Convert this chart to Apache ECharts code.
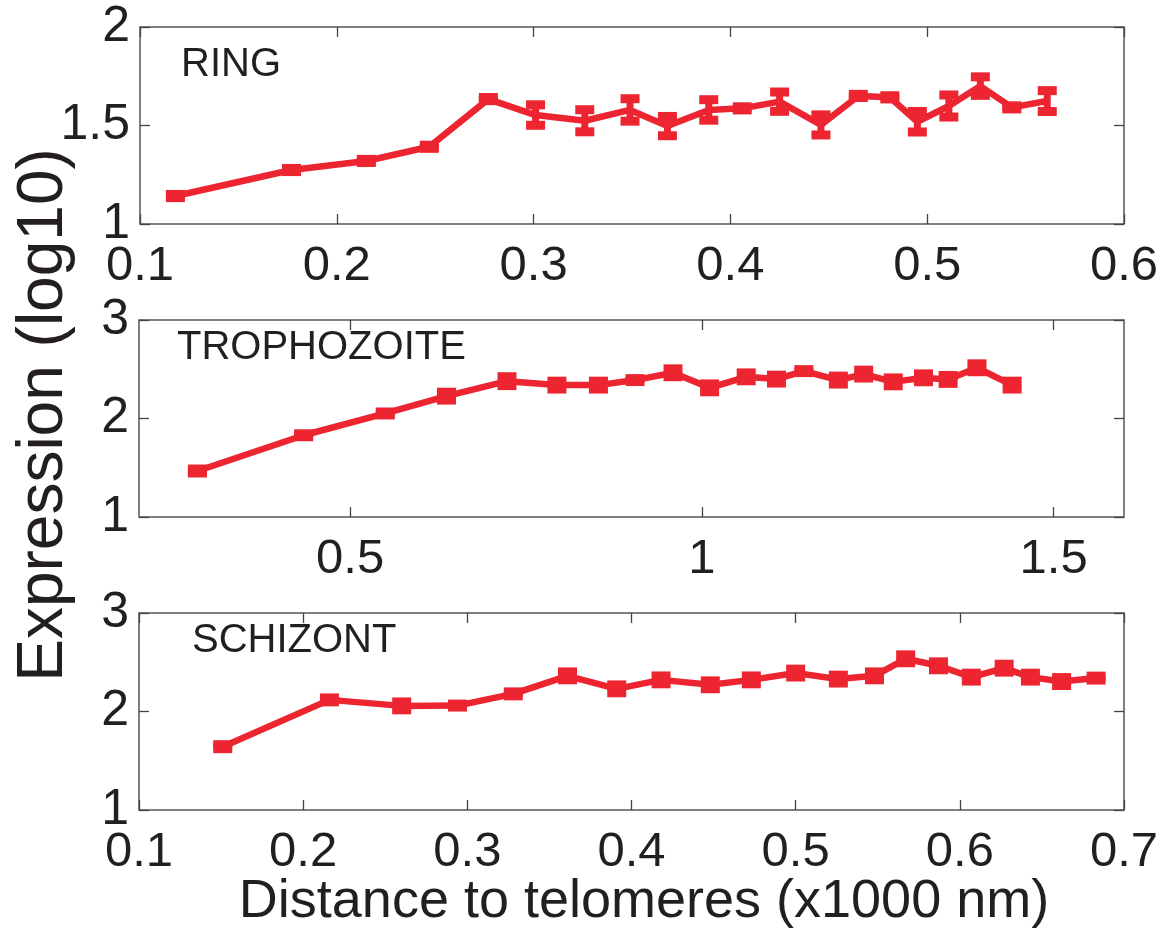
<!DOCTYPE html>
<html>
<head>
<meta charset="utf-8">
<title>Expression vs distance to telomeres</title>
<script src="https://cdn.jsdelivr.net/npm/echarts@6/dist/echarts.min.js"></script>
<style>
  html, body { margin: 0; padding: 0; background: #fff; }
  #chart { width: 1171px; height: 933px; }
</style>
</head>
<body>
<div id="chart"></div>
<script>
// RING stage
var ringX = [0.118, 0.177, 0.215, 0.247, 0.277, 0.301, 0.326, 0.349, 0.368, 0.389,
             0.406, 0.425, 0.446, 0.465, 0.481, 0.495, 0.511, 0.527, 0.543, 0.561];
var ringY = [1.142, 1.274, 1.320, 1.392, 1.634, 1.553, 1.524, 1.579, 1.497, 1.579,
             1.587, 1.621, 1.503, 1.650, 1.643, 1.519, 1.599, 1.700, 1.592, 1.624];
var ringErr = [0.008, 0.008, 0.008, 0.008, 0.008, 0.052, 0.056, 0.057, 0.049, 0.052,
               0.008, 0.049, 0.051, 0.008, 0.008, 0.052, 0.056, 0.047, 0.008, 0.053];

// TROPHOZOITE stage
var trophX = [0.283, 0.434, 0.550, 0.637, 0.723, 0.794, 0.853, 0.905, 0.959, 1.011,
              1.063, 1.106, 1.145, 1.194, 1.230, 1.272, 1.315, 1.350, 1.391, 1.441];
var trophY = [1.467, 1.830, 2.051, 2.227, 2.379, 2.339, 2.339, 2.390, 2.464, 2.311,
              2.423, 2.400, 2.481, 2.390, 2.451, 2.372, 2.413, 2.397, 2.515, 2.339];
var trophErr = [0.02, 0.015, 0.015, 0.04, 0.045, 0.04, 0.04, 0.015, 0.04, 0.04,
                0.04, 0.04, 0.015, 0.04, 0.04, 0.04, 0.04, 0.04, 0.04, 0.04];

// SCHIZONT stage
var schizX = [0.151, 0.216, 0.260, 0.294, 0.328, 0.361, 0.391, 0.418, 0.448, 0.473,
              0.500, 0.526, 0.548, 0.567, 0.587, 0.607, 0.627, 0.643, 0.662, 0.683];
var schizY = [1.643, 2.118, 2.057, 2.060, 2.179, 2.362, 2.230, 2.321, 2.271, 2.321,
              2.390, 2.329, 2.362, 2.535, 2.464, 2.349, 2.440, 2.349, 2.304, 2.339];
var schizErr = [0.02, 0.02, 0.04, 0.015, 0.02, 0.04, 0.04, 0.04, 0.04, 0.04,
                0.04, 0.04, 0.04, 0.04, 0.04, 0.04, 0.04, 0.04, 0.04, 0.02];

var trophTicks = [0.5, 1, 1.5];
var panelNames = ["RING", "TROPHOZOITE", "SCHIZONT"];

var RED = "#ec2530";
var INK = "#231f20";
var FONT = "'Liberation Sans', Arial, sans-serif";

var chart = echarts.init(document.getElementById("chart"));

var grids = [
  { left: 140, width: 984, top: 27, height: 197 },
  { left: 139, width: 985, top: 320, height: 197 },
  { left: 139, width: 985, top: 613, height: 197 }
];
grids.forEach(function (g) {
  g.show = true;
  g.borderColor = "#555";
  g.borderWidth = 1.5;
  g.backgroundColor = "#fff";
});

// x ranges per panel
var xRange = [[0.1, 0.6, 0.1], [0.2, 1.6, null], [0.1, 0.7, 0.1]];
var yRange = [[1, 2, 0.5], [1, 3, 1], [1, 3, 1]];

var xAxes = [], yAxes = [];
for (var i = 0; i < 3; i++) {
  ["bottom", "top"].forEach(function (pos) {
    var ax = {
      type: "value",
      gridIndex: i,
      position: pos,
      min: xRange[i][0],
      max: xRange[i][1],
      axisLine: { show: false, onZero: false },
      axisTick: { show: true, inside: true, length: 10, lineStyle: { color: "#444", width: 1.3 } },
      splitLine: { show: false },
      axisLabel: {
        show: pos === "bottom",
        color: INK,
        fontFamily: FONT,
        fontSize: 49,
        margin: 18
      }
    };
    if (xRange[i][2]) {
      ax.interval = xRange[i][2];
    } else {
      ax.axisTick.customValues = trophTicks;
      ax.axisLabel.customValues = trophTicks;
    }
    xAxes.push(ax);
  });
  ["left", "right"].forEach(function (pos) {
    yAxes.push({
      type: "value",
      gridIndex: i,
      position: pos,
      min: yRange[i][0],
      max: yRange[i][1],
      interval: yRange[i][2],
      axisLine: { show: false, onZero: false },
      axisTick: { show: true, inside: true, length: 10, lineStyle: { color: "#444", width: 1.3 } },
      splitLine: { show: false },
      axisLabel: {
        show: pos === "left",
        color: INK,
        fontFamily: FONT,
        fontSize: 50,
        margin: 10
      }
    });
  });
}

function pairs(xs, ys) {
  return xs.map(function (x, k) { return [x, ys[k]]; });
}

function lineSeries(idx, xs, ys) {
  return {
    type: "line",
    xAxisIndex: idx * 2,
    yAxisIndex: idx * 2,
    data: pairs(xs, ys),
    symbol: "none",
    lineStyle: { color: RED, width: 6.5 },
    z: 2
  };
}

// error bars with thick caps, like the MATLAB errorbar glyphs
function errorSeries(idx, xs, ys, es) {
  return {
    type: "custom",
    xAxisIndex: idx * 2,
    yAxisIndex: idx * 2,
    data: xs.map(function (x, k) { return [x, ys[k], es[k]]; }),
    renderItem: function (params, api) {
      var x = api.value(0), y = api.value(1), e = api.value(2);
      var top = api.coord([x, y + e]);
      var bot = api.coord([x, y - e]);
      var hw = 9.5;
      var ch = 9;
      return {
        type: "group",
        children: [
          { type: "rect", shape: { x: top[0] - 3.5, y: top[1], width: 7, height: bot[1] - top[1] }, style: { fill: RED } },
          { type: "rect", shape: { x: top[0] - hw, y: top[1] - ch / 2, width: hw * 2, height: ch }, style: { fill: RED } },
          { type: "rect", shape: { x: bot[0] - hw, y: bot[1] - ch / 2, width: hw * 2, height: ch }, style: { fill: RED } }
        ]
      };
    },
    z: 3
  };
}

var labelPos = [[181, 66], [177, 349], [192, 642]];
var graphics = panelNames.map(function (name, k) {
  return {
    type: "text",
    left: labelPos[k][0],
    top: labelPos[k][1] - 21,
    style: { text: name, font: "40px " + FONT, fill: INK }
  };
});
graphics.push({
  type: "text",
  x: 44,
  y: 415,
  rotation: Math.PI / 2,
  style: {
    text: "Expression (log10)",
    font: "64px " + FONT,
    fill: INK,
    align: "center",
    verticalAlign: "middle"
  }
});
graphics.push({
  type: "text",
  x: 644,
  y: 902,
  style: {
    text: "Distance to telomeres (x1000 nm)",
    font: "54px " + FONT,
    fill: INK,
    align: "center",
    verticalAlign: "middle"
  }
});

var option = {
  animation: false,
  backgroundColor: "#fff",
  grid: grids,
  xAxis: xAxes,
  yAxis: yAxes,
  graphic: graphics,
  series: [
    lineSeries(0, ringX, ringY), errorSeries(0, ringX, ringY, ringErr),
    lineSeries(1, trophX, trophY), errorSeries(1, trophX, trophY, trophErr),
    lineSeries(2, schizX, schizY), errorSeries(2, schizX, schizY, schizErr)
  ]
};

chart.setOption(option);
</script>
</body>
</html>
